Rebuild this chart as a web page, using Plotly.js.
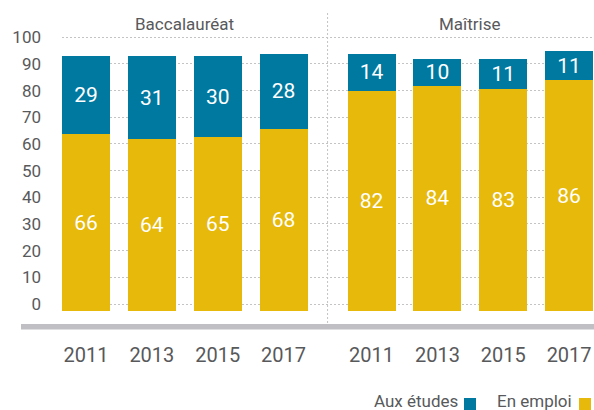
<!DOCTYPE html>
<html>
<head>
<meta charset="utf-8">
<script src="https://cdn.plot.ly/plotly-3.0.1.min.js"></script>
<style>
html,body{margin:0;padding:0;background:#fff;}
#chart{width:594px;height:410px;}
</style>
</head>
<body>
<div id="chart"></div>
<script>
// ---- data ----
var groups = ['Baccalauréat', 'Maîtrise'];
var years = ['2011', '2013', '2015', '2017'];
var seriesNames = ['En emploi', 'Aux études'];
var enEmploi = [66, 64, 65, 68, 82, 84, 83, 86];
var auxEtudes = [29, 31, 30, 28, 14, 10, 11, 11];
var yTicks = [0, 10, 20, 30, 40, 50, 60, 70, 80, 90, 100];

// ---- layout helpers ----
var W = 594, H = 410;
var M = {l: 62, r: 0, t: 10, b: 99};
var plotW = W - M.l - M.r, plotH = H - M.t - M.b;
var groupGap = 0.336;
var blue = '#0079a1', yellow = '#e6b90b', txt = '#58595b', grid = '#c4c4c4';

var xPos = [], xLabels = [], groupCenters = [];
groups.forEach(function (g, gi) {
  var s = 0;
  years.forEach(function (y, yi) {
    var p = gi * (years.length + groupGap) + yi;
    xPos.push(p); xLabels.push(y); s += p;
  });
  groupCenters.push(s / years.length);
});
var sepX = (xPos[years.length - 1] + xPos[years.length]) / 2;

function px2paperX(px) { return (px - M.l) / plotW; }
function px2paperY(py) { return (H - M.b - py) / plotH; }

var traces = [
  {type: 'bar', name: seriesNames[0], x: xPos, y: enEmploi,
   marker: {color: yellow}, width: 0.729,
   text: enEmploi.map(String), textposition: 'inside', insidetextanchor: 'middle', textangle: 0,
   textfont: {color: '#ffffff', size: 21}, hoverinfo: 'skip'},
  {type: 'bar', name: seriesNames[1], x: xPos, y: auxEtudes,
   marker: {color: blue}, width: 0.729,
   text: auxEtudes.map(String), textposition: 'inside', insidetextanchor: 'middle', textangle: 0,
   textfont: {color: '#ffffff', size: 21}, hoverinfo: 'skip'},
  // scale carrier for the tick/grid axis (no visible marks)
  {type: 'scatter', mode: 'markers', x: [xPos[0]], y: [yTicks[0]], yaxis: 'y2',
   marker: {opacity: 0, size: 1}, hoverinfo: 'skip', showlegend: false}
];

var annotations = [];
groups.forEach(function (g, gi) {
  annotations.push({x: groupCenters[gi], xref: 'x', y: px2paperY(24), yref: 'paper',
    text: g, showarrow: false, xanchor: 'center', yanchor: 'middle',
    font: {size: 17, color: txt}});
});
// legend (text left of the colour square)
annotations.push({x: px2paperX(460), xref: 'paper', y: px2paperY(401), yref: 'paper',
  text: seriesNames[1], showarrow: false, xanchor: 'right', yanchor: 'middle',
  font: {size: 17, color: txt}});
annotations.push({x: px2paperX(574), xref: 'paper', y: px2paperY(401), yref: 'paper',
  text: seriesNames[0], showarrow: false, xanchor: 'right', yanchor: 'middle',
  font: {size: 17, color: txt}});

var shapes = [
  // baseline
  {type: 'rect', xref: 'paper', yref: 'paper', x0: px2paperX(21), x1: 1,
   y0: px2paperY(329.5), y1: px2paperY(324), fillcolor: '#bfbfc4', line: {width: 0}, layer: 'above'},
  // group separator
  {type: 'line', xref: 'x', yref: 'paper', x0: sepX, x1: sepX,
   y0: px2paperY(13), y1: px2paperY(323), line: {color: grid, width: 1, dash: '2px,2px'}, layer: 'below'},
  // legend squares
  {type: 'rect', xref: 'paper', yref: 'paper', x0: px2paperX(464), x1: px2paperX(476),
   y0: px2paperY(410), y1: px2paperY(398), fillcolor: blue, line: {width: 0}},
  {type: 'rect', xref: 'paper', yref: 'paper', x0: px2paperX(579), x1: px2paperX(591),
   y0: px2paperY(410), y1: px2paperY(398), fillcolor: yellow, line: {width: 0}}
];

var layout = {
  width: W, height: H, margin: M,
  paper_bgcolor: '#ffffff', plot_bgcolor: '#ffffff',
  font: {family: 'Roboto, "Open Sans", sans-serif', color: txt},
  barmode: 'stack', showlegend: false,
  uniformtext: {mode: 'show', minsize: 21},
  xaxis: {range: [-0.3645, 7.714], tickvals: xPos, ticktext: xLabels,
    showgrid: false, zeroline: false, showline: false, ticks: '',
    ticklabelstandoff: 30, tickfont: {size: 20, color: txt}, fixedrange: true},
  yaxis: {range: [0, 112.3], visible: true, showticklabels: false, ticks: '',
    showgrid: false, zeroline: false, showline: false, fixedrange: true},
  yaxis2: {range: [-2.62, 110.2], overlaying: 'y', anchor: 'x', side: 'left',
    tickvals: yTicks, showgrid: true, gridcolor: grid,
    griddash: '2px,2px', gridwidth: 1, zeroline: false, showline: false, ticks: '',
    ticklabelstandoff: 20, tickfont: {size: 17, color: txt}, fixedrange: true},
  annotations: annotations,
  shapes: shapes
};

Plotly.newPlot('chart', traces, layout, {staticPlot: true, displayModeBar: false});
</script>
</body>
</html>
